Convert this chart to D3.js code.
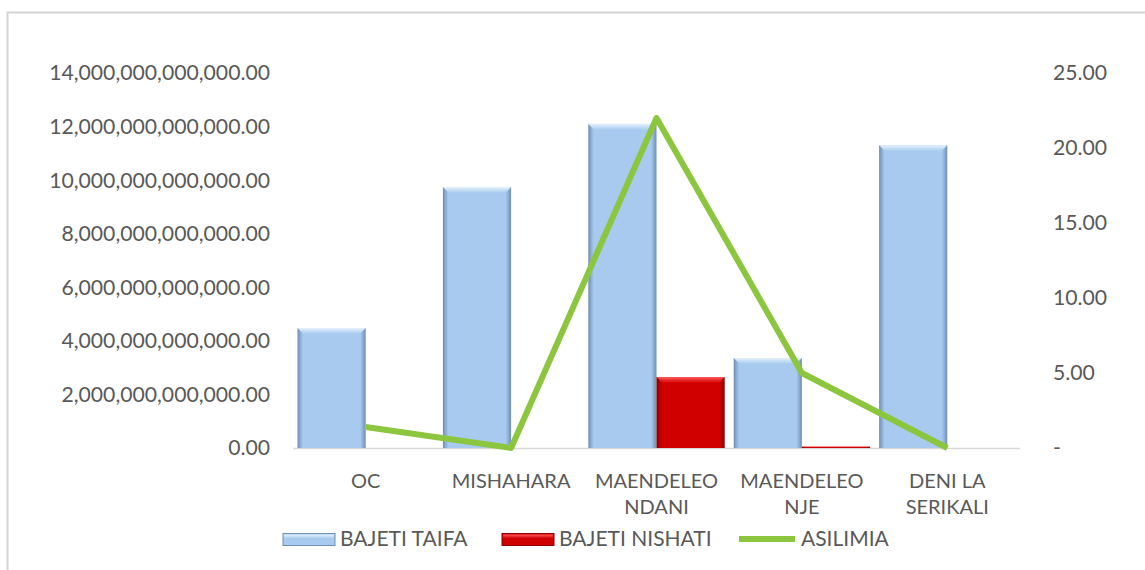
<!DOCTYPE html>
<html>
<head>
<meta charset="utf-8">
<script src="https://cdn.jsdelivr.net/npm/d3@7"></script>
<style>
  body { margin: 0; background: #fff; }
  text { font-family: Lato, "Open Sans", sans-serif; fill: #595959; }
</style>
</head>
<body>
<script>
const width = 1145
const height = 570

// data
const categories = [["OC"], ["MISHAHARA"], ["MAENDELEO", "NDANI"], ["MAENDELEO", "NJE"], ["DENI LA", "SERIKALI"]]
const bajetiTaifa = [4.48e12, 9.74e12, 12.1e12, 3.36e12, 11.3e12]
const bajetiNishati = [0, 0, 2.65e12, 0.05e12, 0]
const asilimia = [1.4, 0, 22.0, 5.0, 0]
const leftTicks = [0, 2e12, 4e12, 6e12, 8e12, 10e12, 12e12, 14e12]
const rightTicks = [0, 5, 10, 15, 20, 25]
const seriesNames = ["BAJETI TAIFA", "BAJETI NISHATI", "ASILIMIA"]

const plotLeft = 293
const plotRight = 1020
const plotTop = 73
const plotBottom = 448

const svg = d3.select('body')
  .append('svg')
  .attr('width', width)
  .attr('height', height)

// chart frame (runs off the right/bottom like the screenshot)
svg.append('rect')
  .attr('x', 7.5).attr('y', 12.5)
  .attr('width', 1200).attr('height', 600)
  .attr('fill', 'none')
  .attr('stroke', '#d4d4d4')
  .attr('stroke-width', 2)

const defs = svg.append('defs')

function bevel(id, dark, mid, light) {
  const g = defs.append('linearGradient').attr('id', id)
    .attr('x1', 0).attr('x2', 1).attr('y1', 0).attr('y2', 0)
  g.append('stop').attr('offset', '0%').attr('stop-color', dark)
  g.append('stop').attr('offset', '8%').attr('stop-color', mid)
  g.append('stop').attr('offset', '92%').attr('stop-color', mid)
  g.append('stop').attr('offset', '100%').attr('stop-color', dark)
  const t = defs.append('linearGradient').attr('id', id + 'Top')
    .attr('x1', 0).attr('x2', 0).attr('y1', 0).attr('y2', 1)
  t.append('stop').attr('offset', '0%').attr('stop-color', light)
  t.append('stop').attr('offset', '100%').attr('stop-color', mid)
}
bevel('blueBar', '#6f8fb3', '#a7caee', '#e4f1fd')
bevel('redBar', '#8a0000', '#d00000', '#ff5a5a')

const x0 = d3.scaleBand()
  .domain(d3.range(categories.length))
  .range([plotLeft, plotRight])

const x1 = d3.scaleBand()
  .domain([0, 1])
  .range([0, x0.bandwidth()])
  .paddingOuter(0.066)

const yLeft = d3.scaleLinear().domain([0, 14e12]).range([plotBottom, plotTop])
const yRight = d3.scaleLinear().domain([0, 25]).range([plotBottom, plotTop])

// left axis labels
svg.append('g').selectAll('text')
  .data(leftTicks)
  .enter().append('text')
  .attr('x', 270)
  .attr('y', d => yLeft(d))
  .attr('dy', '0.35em')
  .attr('text-anchor', 'end')
  .style('font-size', '21.2px')
  .text(d => d3.format(',.2f')(d))

// right axis labels
svg.append('g').selectAll('text')
  .data(rightTicks)
  .enter().append('text')
  .attr('x', 1053)
  .attr('y', d => yRight(d))
  .attr('dy', '0.35em')
  .style('font-size', '21.2px')
  .text(d => d === 0 ? '-' : d3.format('.2f')(d))

// baseline
svg.append('line')
  .attr('x1', plotLeft).attr('x2', plotRight)
  .attr('y1', plotBottom + 0.5).attr('y2', plotBottom + 0.5)
  .attr('stroke', '#d9d9d9')
  .attr('stroke-width', 1.5)

// bars
function drawBars(values, idx, fill) {
  const w = x1.bandwidth()
  const g = svg.append('g')
  values.forEach((v, i) => {
    const h = plotBottom - yLeft(v)
    if (h <= 0) return
    const bx = x0(i) + x1(idx)
    const by = yLeft(v)
    g.append('rect')
      .attr('x', bx).attr('y', by)
      .attr('width', w).attr('height', h)
      .attr('fill', `url(#${fill})`)
    const bev = Math.min(6, h / 2)
    g.append('polygon')
      .attr('points', [[bx, by], [bx + w, by], [bx + w - bev, by + bev], [bx + bev, by + bev]].join(' '))
      .attr('fill', `url(#${fill}Top)`)
  })
}
drawBars(bajetiTaifa, 0, 'blueBar')
drawBars(bajetiNishati, 1, 'redBar')

// line
const line = d3.line()
  .x((d, i) => x0(i) + x0.bandwidth() / 2)
  .y(d => yRight(d))

svg.append('path')
  .datum(asilimia)
  .attr('d', line)
  .attr('fill', 'none')
  .attr('stroke', '#8cc63f')
  .attr('stroke-width', 6)
  .attr('stroke-linejoin', 'round')

// category labels
const catLabels = svg.append('g').selectAll('text')
  .data(categories)
  .enter().append('text')
  .attr('text-anchor', 'middle')
  .style('font-size', '20px')
  .attr('x', (d, i) => x0(i) + x0.bandwidth() / 2)
  .attr('y', 481)
catLabels.selectAll('tspan')
  .data(d => d)
  .enter().append('tspan')
  .attr('x', function() { return this.parentNode.getAttribute('x') })
  .attr('dy', (d, i) => i === 0 ? '0.35em' : 26)
  .text(d => d)

// legend
const legend = svg.append('g')
const legendX = [283, 502, 739]
seriesNames.forEach((name, i) => {
  const lx = legendX[i]
  if (i < 2) {
    const fill = i === 0 ? 'blueBar' : 'redBar'
    legend.append('rect')
      .attr('x', lx).attr('y', 533.5)
      .attr('width', 52).attr('height', 12)
      .attr('fill', i === 0 ? '#a7caee' : '#d00000')
      .attr('stroke', i === 0 ? '#6f8fb3' : '#8a0000')
      .attr('stroke-width', 1)
    legend.append('rect')
      .attr('x', lx + 1).attr('y', 534.5)
      .attr('width', 50).attr('height', 4)
      .attr('fill', `url(#${fill}Top)`)
  } else {
    legend.append('line')
      .attr('x1', lx).attr('x2', lx + 56)
      .attr('y1', 539).attr('y2', 539)
      .attr('stroke', '#8cc63f')
      .attr('stroke-width', 6)
  }
  legend.append('text')
    .attr('x', lx + (i < 2 ? 57 : 62))
    .attr('y', 539)
    .attr('dy', '0.35em')
    .style('font-size', '21px')
    .text(name)
})
</script>
</body>
</html>
